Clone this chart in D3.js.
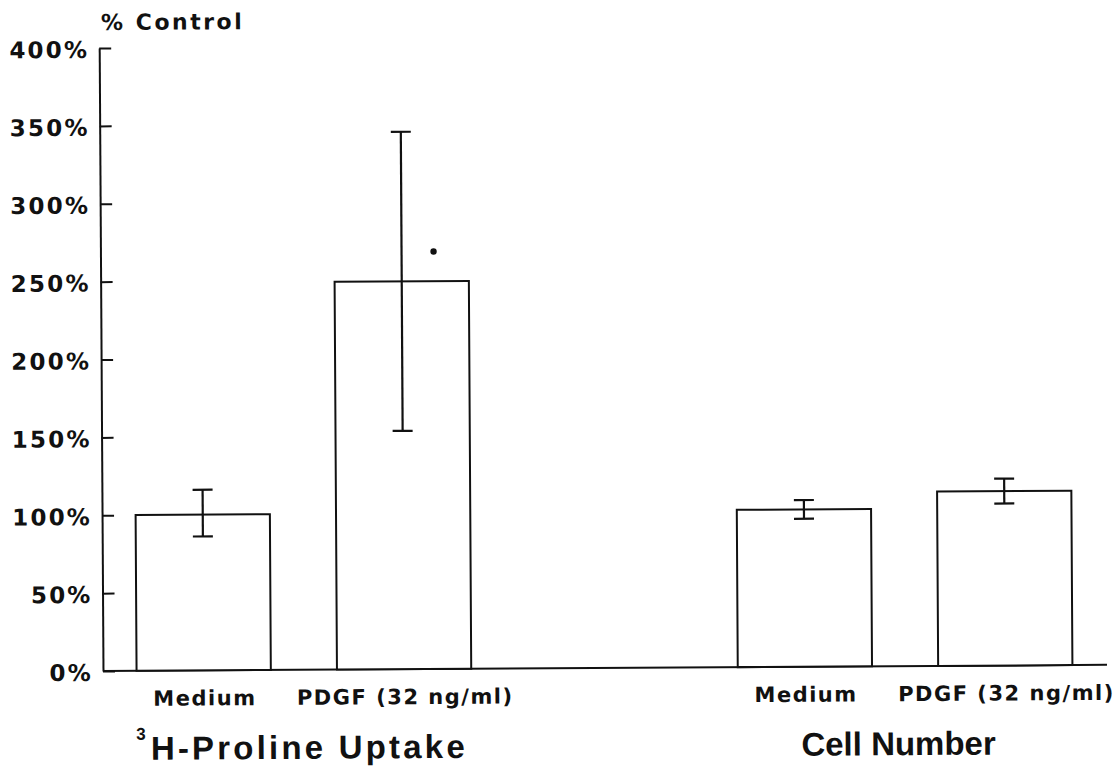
<!DOCTYPE html>
<html>
<head>
<meta charset="utf-8">
<script src="https://cdn.jsdelivr.net/npm/d3@7"></script>
<style>
  html, body { margin: 0; padding: 0; background: #fff; }
  svg { display: block; }
  text { font-family: "DejaVu Sans", sans-serif; font-weight: bold; fill: #111; }
  .title { font-family: "Liberation Sans", Arial, sans-serif; }
  .axis path, .axis line { stroke: #111; stroke-width: 2; }
  .bar { fill: #fff; stroke: #111; stroke-width: 2; }
  .err { stroke: #111; stroke-width: 2.2; }
</style>
</head>
<body>
<div id="chart"></div>
<script>
// --- data ---
const categories = ["Medium", "PDGF (32 ng/ml)"];
const groupTitles = ["H-Proline Uptake", "Cell Number"];
const groupSup = ["3", ""];

const prolineMean = [100, 249];
const prolineLow  = [86, 153];
const prolineHigh = [116, 345];

const cellMean = [101, 112];
const cellLow  = [95, 104];
const cellHigh = [107, 120];

const yTicks = [0, 50, 100, 150, 200, 250, 300, 350, 400];
const sigValue = 268; // the dot next to PDGF / proline

// --- layout ---
const width = 1119, height = 770;
const origin = { x: 103, y: 671 };
const plotW = 1002, plotH = 623;

const svg = d3.select("#chart").append("svg")
    .attr("width", width)
    .attr("height", height);

// scanned figure is slightly tilted
const g = svg.append("g")
    .attr("transform", `translate(${origin.x},${origin.y}) rotate(-0.35)`);

const slots = ["g0c0", "g0c1", "gap", "g1c0", "g1c1"];
const x = d3.scaleBand()
    .domain(slots)
    .range([0.5, plotW + 0.5])
    .paddingInner(0.33)
    .paddingOuter(0.165);

const y = d3.scaleLinear().domain([0, 400]).range([0, -plotH]);

// flatten the two groups into bar records
const bars = [];
[[prolineMean, prolineLow, prolineHigh], [cellMean, cellLow, cellHigh]].forEach(([m, lo, hi], gi) => {
    categories.forEach((c, ci) => {
        bars.push({ slot: `g${gi}c${ci}`, label: c, value: m[ci], lo: lo[ci], hi: hi[ci] });
    });
});

// y axis (ticks point inward)
const yAxis = d3.axisLeft(y)
    .tickValues(yTicks)
    .tickSize(-12)
    .tickSizeOuter(0)
    .tickPadding(10)
    .tickFormat(d => d + "%");

const ya = g.append("g").attr("class", "axis").call(yAxis);
ya.selectAll("text")
    .attr("dy", "0.4em")
    .style("font-size", "23px")
    .style("letter-spacing", "2.2px");

// x baseline
g.append("line")
    .attr("x1", 0).attr("x2", plotW + 2)
    .attr("y1", y(0)).attr("y2", y(0))
    .style("stroke", "#111").style("stroke-width", 2);

// bars
g.selectAll(".bar")
    .data(bars)
    .enter().append("rect")
    .attr("class", "bar")
    .attr("x", d => x(d.slot))
    .attr("y", d => y(d.value))
    .attr("width", x.bandwidth())
    .attr("height", d => y(0) - y(d.value));

// error bars
const capW = 20;
const eb = g.selectAll(".errbar")
    .data(bars)
    .enter().append("g")
    .attr("class", "errbar")
    .attr("transform", d => `translate(${x(d.slot) + x.bandwidth() / 2},0)`);

eb.append("line").attr("class", "err")
    .attr("x1", 0).attr("x2", 0)
    .attr("y1", d => y(d.lo)).attr("y2", d => y(d.hi));
eb.append("line").attr("class", "err")
    .attr("x1", -capW / 2).attr("x2", capW / 2)
    .attr("y1", d => y(d.hi)).attr("y2", d => y(d.hi));
eb.append("line").attr("class", "err")
    .attr("x1", -capW / 2).attr("x2", capW / 2)
    .attr("y1", d => y(d.lo)).attr("y2", d => y(d.lo));

// significance dot
g.append("circle")
    .attr("cx", x("g0c1") + x.bandwidth() / 2 + 32)
    .attr("cy", y(sigValue))
    .attr("r", 3.2)
    .style("fill", "#111");

// category labels
g.selectAll(".cat")
    .data(bars)
    .enter().append("text")
    .attr("class", "cat")
    .attr("x", d => x(d.slot) + x.bandwidth() / 2 + 1)
    .attr("y", 35)
    .attr("text-anchor", "middle")
    .style("font-size", "21px")
    .style("letter-spacing", "1.5px")
    .text(d => d.label);

// group titles
const titleShift = [5, -7];
const titleSpacing = [3.2, 0];
groupTitles.forEach((t, gi) => {
    const cx = (x(`g${gi}c0`) + x(`g${gi}c1`)) / 2 + x.bandwidth() / 2 + titleShift[gi];
    const txt = g.append("text")
        .attr("class", "title")
        .attr("x", cx)
        .attr("y", 89)
        .attr("text-anchor", "middle")
        .style("font-size", "33px")
        .style("letter-spacing", titleSpacing[gi] + "px")
        .text(t);
    if (groupSup[gi]) {
        const bb = txt.node().getBBox();
        g.append("text")
            .attr("class", "title")
            .attr("x", bb.x - 5)
            .attr("y", 69)
            .attr("text-anchor", "end")
            .style("font-size", "17px")
            .text(groupSup[gi]);
    }
});

// y axis title
g.append("text")
    .attr("x", 2)
    .attr("y", -641)
    .style("font-size", "22px")
    .style("letter-spacing", "2.5px")
    .text("% Control");
</script>
</body>
</html>
